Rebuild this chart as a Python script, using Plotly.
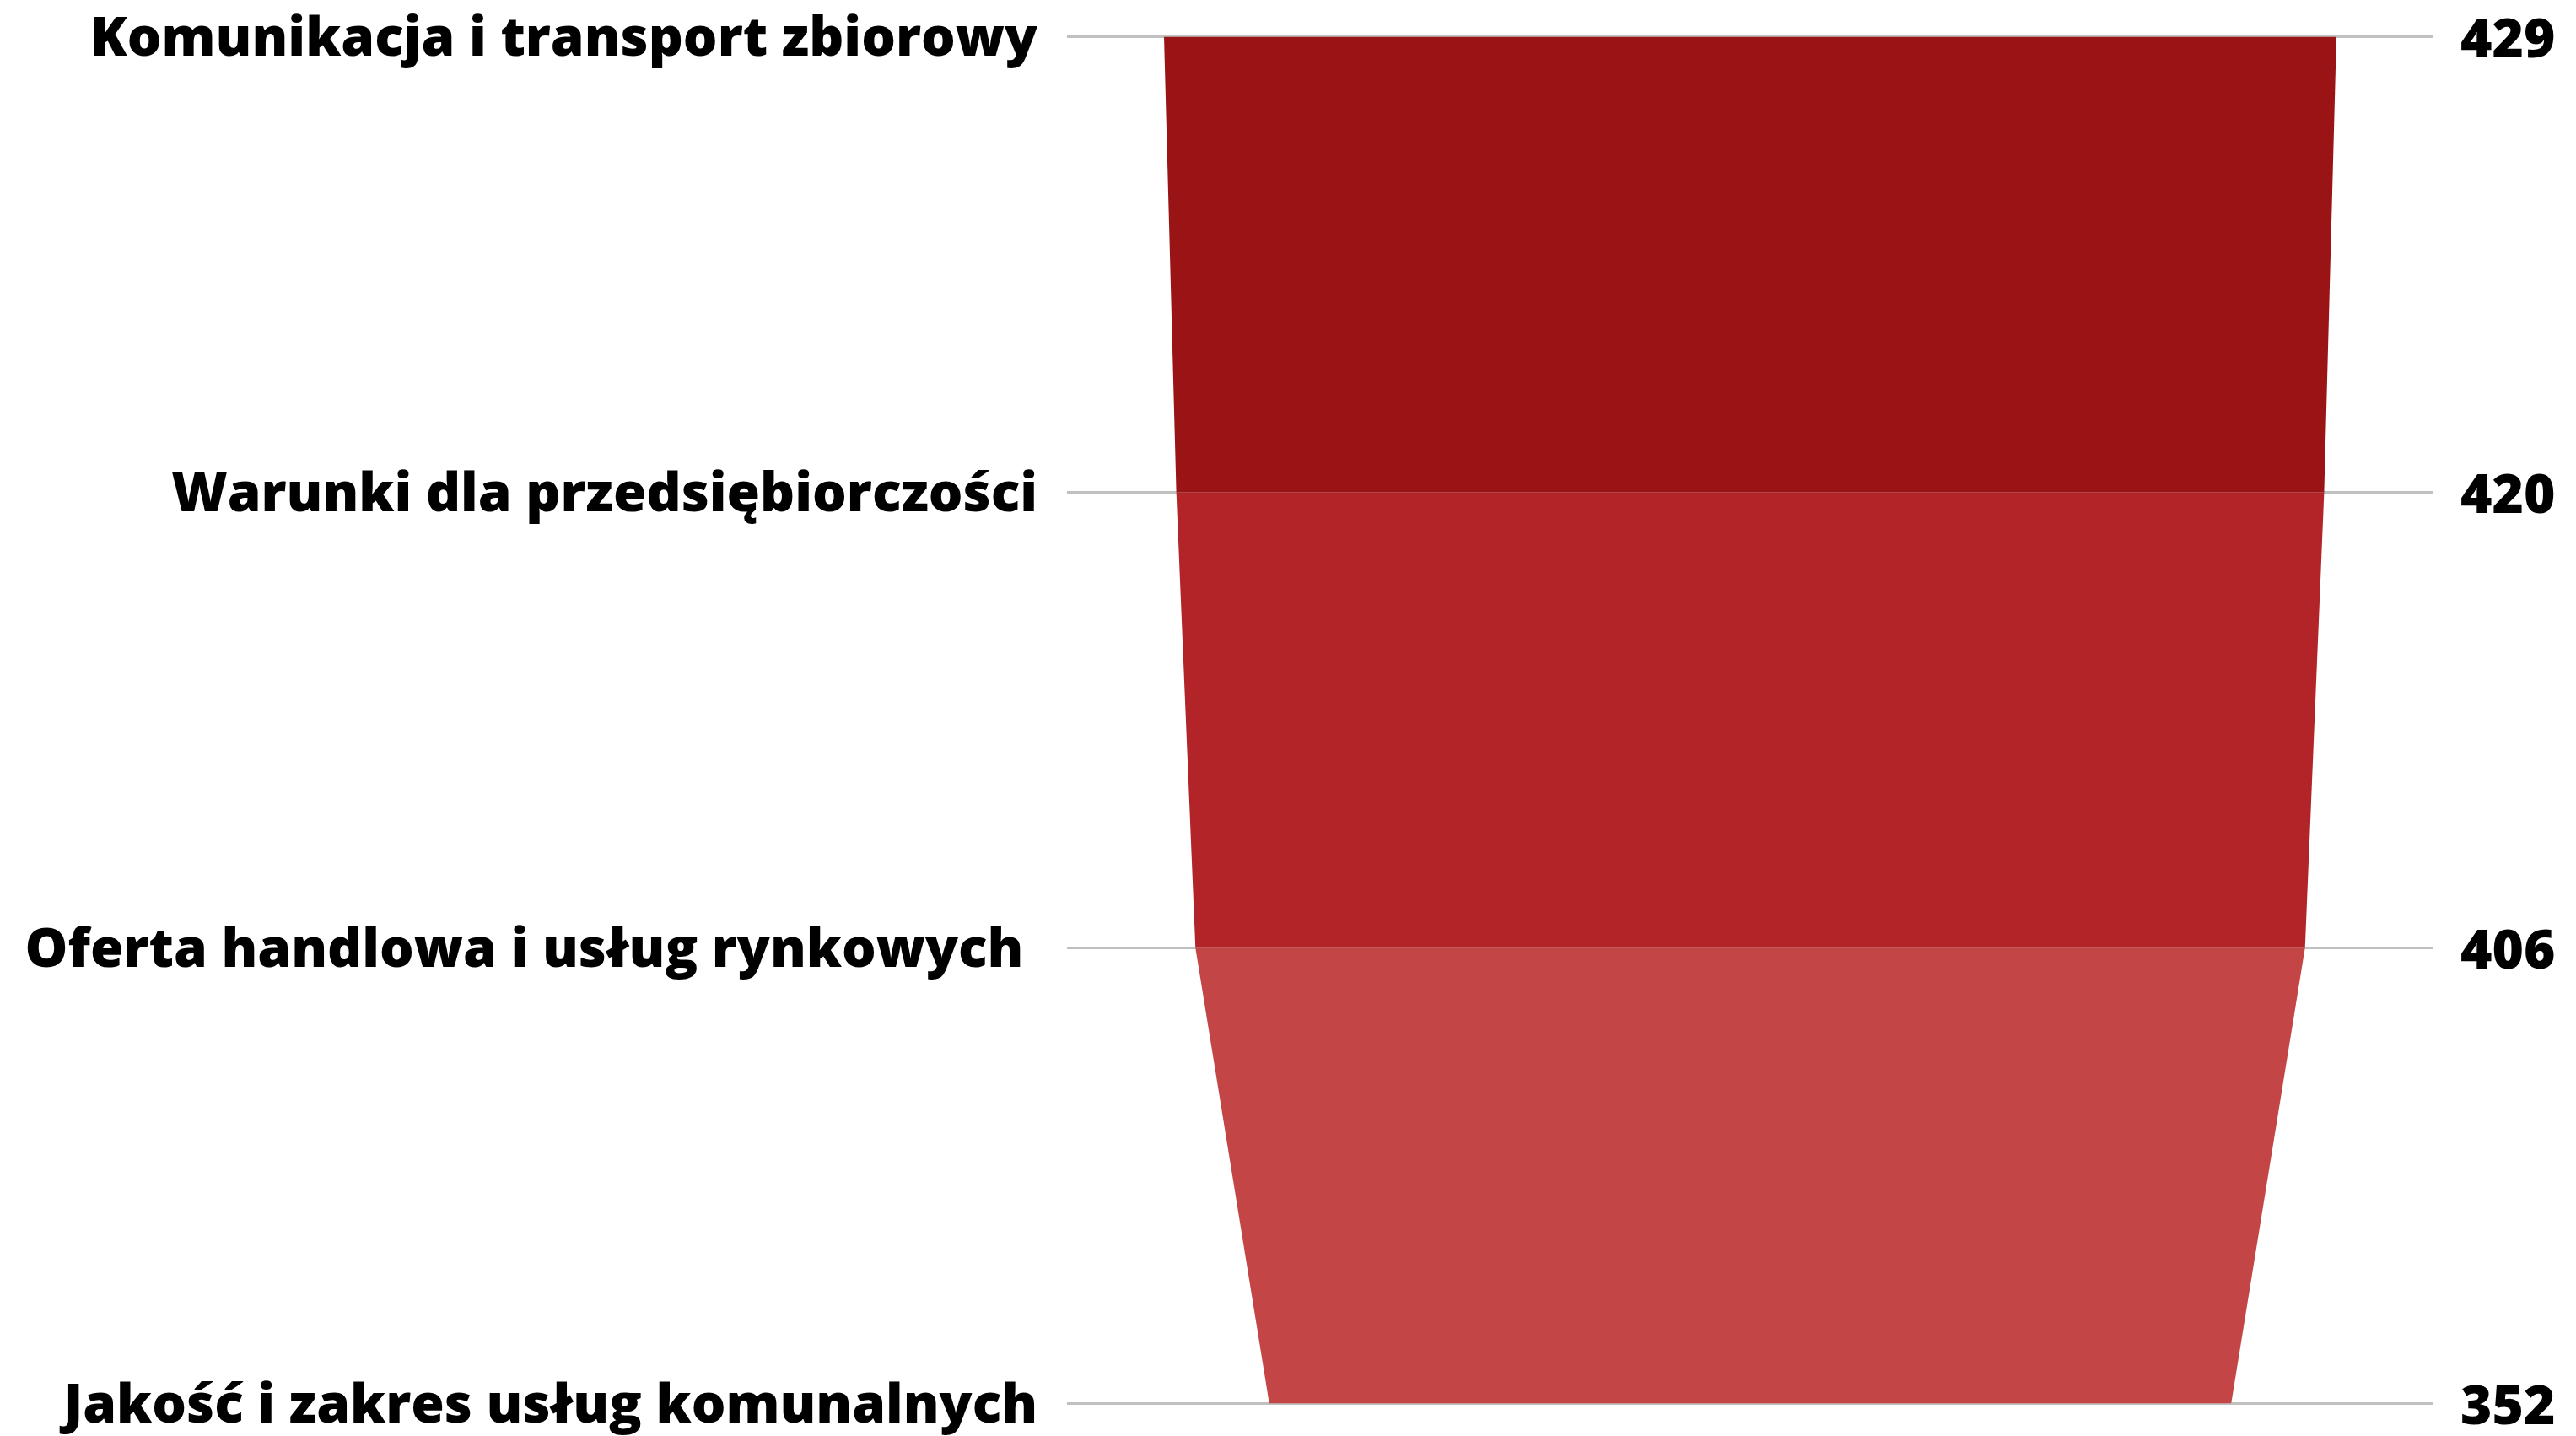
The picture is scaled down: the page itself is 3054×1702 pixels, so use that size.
import plotly.graph_objects as go

categories = [
    "Komunikacja i transport zbiorowy",
    "Warunki dla przedsiębiorczości",
    "Oferta handlowa i usług rynkowych ",
    "Jakość i zakres usług komunalnych",
]
values = [429, 420, 406, 352]
band_colors = ["#9A1416", "#B22427", "#C44545"]

W, H = 3054, 1702
fig = go.Figure()

for i in range(len(values) - 1):
    v0, v1 = values[i], values[i + 1]
    fig.add_trace(go.Scatter(
        x=[-v0 / 2, v0 / 2, v1 / 2, -v1 / 2, -v0 / 2],
        y=[i, i, i + 1, i + 1, i],
        fill="toself",
        fillcolor=band_colors[i],
        mode="lines",
        line=dict(width=0, color=band_colors[i]),
        hoverinfo="skip",
        showlegend=False,
    ))

font = dict(family="Open Sans", size=64, color="#000000", weight=800)

for i, v in enumerate(values):
    fig.add_annotation(
        x=1, xref="paper", y=i, yref="y",
        text=str(v), showarrow=False,
        xanchor="left", yanchor="middle", xshift=30,
        font=font,
    )

pad = 0.02
fig.update_xaxes(range=[-250, 250], visible=False, showgrid=False, zeroline=False)
fig.update_yaxes(
    range=[len(values) - 1 + pad, -pad],
    tickvals=list(range(len(values))),
    ticktext=categories,
    tickfont=font,
    showgrid=True, gridcolor="#C0C0C0", gridwidth=2.5,
    zeroline=False, showline=False, ticks="",
    ticklabelstandoff=34,
    ticklabeloverflow="allow",
    automargin=False,
)
fig.update_layout(
    width=W, height=H,
    margin=dict(l=1265, r=169, t=33, b=28, autoexpand=False),
    plot_bgcolor="white", paper_bgcolor="white",
)
fig.write_html("out.html", config={"displayModeBar": False})

with open("out.html", "r", encoding="utf-8") as f:
    html = f.read()
html = html.replace("<body>", '<body style="margin:0;overflow:hidden">', 1)
with open("out.html", "w", encoding="utf-8") as f:
    f.write(html)
